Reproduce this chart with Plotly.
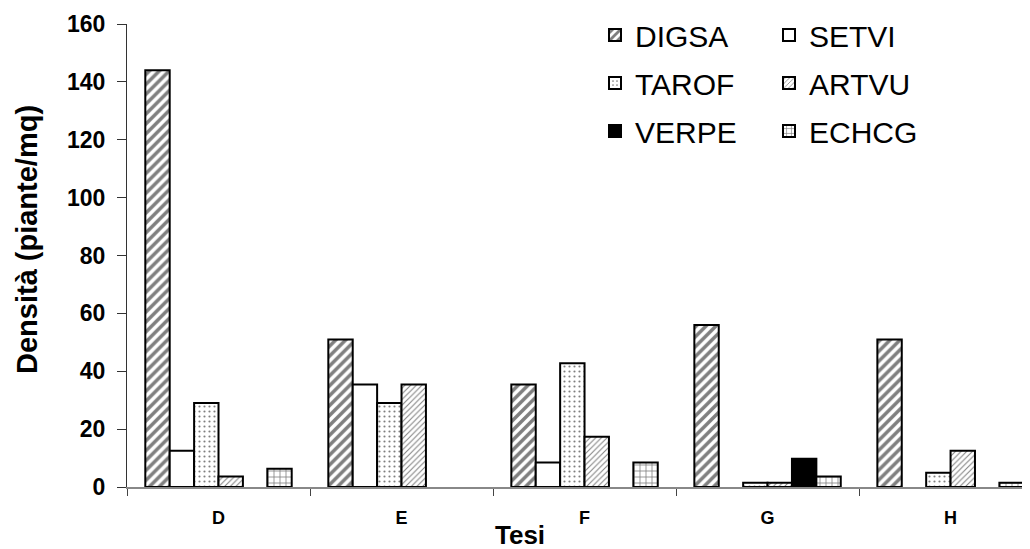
import plotly.graph_objects as go

# Density of weeds (plants per m2) per treatment
tesi = ["D", "E", "F", "G", "H"]
digsa = [144, 51, 35.4, 56, 51]
setvi = [12.5, 35.4, 8.5, None, None]
tarof = [29, 29, 42.8, 1.5, 4.9]
artvu = [3.6, 35.4, 17.4, 1.5, 12.5]
verpe = [None, None, None, 9.8, None]
echcg = [6.3, None, 8.5, 3.6, 1.5]

y_ticks = [0, 20, 40, 60, 80, 100, 120, 140, 160]

fig = go.Figure()

series = [
    ("DIGSA", digsa, dict(color="white", pattern=dict(shape="/", fgcolor="black", bgcolor="white", size=7, solidity=0.5)), "legend"),
    ("SETVI", setvi, dict(color="white"), "legend"),
    ("TAROF", tarof, dict(color="white", pattern=dict(shape=".", fgcolor="black", bgcolor="white", size=5, solidity=0.15)), "legend2"),
    ("ARTVU", artvu, dict(color="white", pattern=dict(shape="/", fgcolor="black", bgcolor="white", size=4, solidity=0.25)), "legend2"),
    ("VERPE", verpe, dict(color="black"), "legend3"),
    ("ECHCG", echcg, dict(color="white", pattern=dict(shape="+", fgcolor="black", bgcolor="white", size=6, solidity=0.25)), "legend3"),
]

for name, vals, marker, leg in series:
    marker["line"] = dict(color="black", width=2)
    fig.add_trace(go.Bar(x=tesi, y=vals, name=name, marker=marker, legend=leg))

# page body has an 8px margin, so positions below are shifted by 8px
leg_font = dict(family="Liberation Sans, Arial", size=30, color="black")
leg_common = dict(orientation="h", xref="container", yref="container", x=587 / 1030,
                  xanchor="left", yanchor="middle", entrywidth=129, entrywidthmode="pixels",
                  font=leg_font, bgcolor="rgba(0,0,0,0)", itemclick=False)

fig.update_layout(
    width=1030, height=549,
    margin=dict(l=119, r=8, t=16, b=70, autoexpand=False),
    paper_bgcolor="white", plot_bgcolor="white",
    barmode="group", bargap=0.2, bargroupgap=0,
    font=dict(family="Liberation Sans, Arial", color="black"),
    legend=dict(y=1 - 27 / 549, **leg_common),
    legend2=dict(y=1 - 75 / 549, **leg_common),
    legend3=dict(y=1 - 123 / 549, **leg_common),
    xaxis=dict(range=[-0.5, 4.434], showline=True, linecolor="#888888", linewidth=1.5,
               ticks="outside", tickson="boundaries", ticklen=7, tickcolor="#444444",
               tickfont=dict(size=18, family="Liberation Sans, Arial", weight="bold"),
               ticklabelstandoff=14, showgrid=False, zeroline=False),
    yaxis=dict(range=[0, 160], tickvals=y_ticks, showline=True, linecolor="#333333", linewidth=1,
               ticks="outside", ticklen=9, tickcolor="#333333", ticklabelstandoff=7,
               tickfont=dict(size=23, family="Liberation Sans, Arial", weight="bold"),
               showgrid=False, zeroline=False),
    annotations=[
        dict(text="<b>Densità (piante/mq)</b>", textangle=-90, xref="paper", yref="paper",
             x=(27 - 127) / 903, y=(487 - 240) / 463, xanchor="center", yanchor="middle",
             showarrow=False, font=dict(size=29)),
        dict(text="<b>Tesi</b>", xref="paper", yref="paper",
             x=(520 - 127) / 903, y=(487 - 535) / 463, xanchor="center", yanchor="middle",
             showarrow=False, font=dict(size=26)),
    ],
)

fig.write_html("out.html")
